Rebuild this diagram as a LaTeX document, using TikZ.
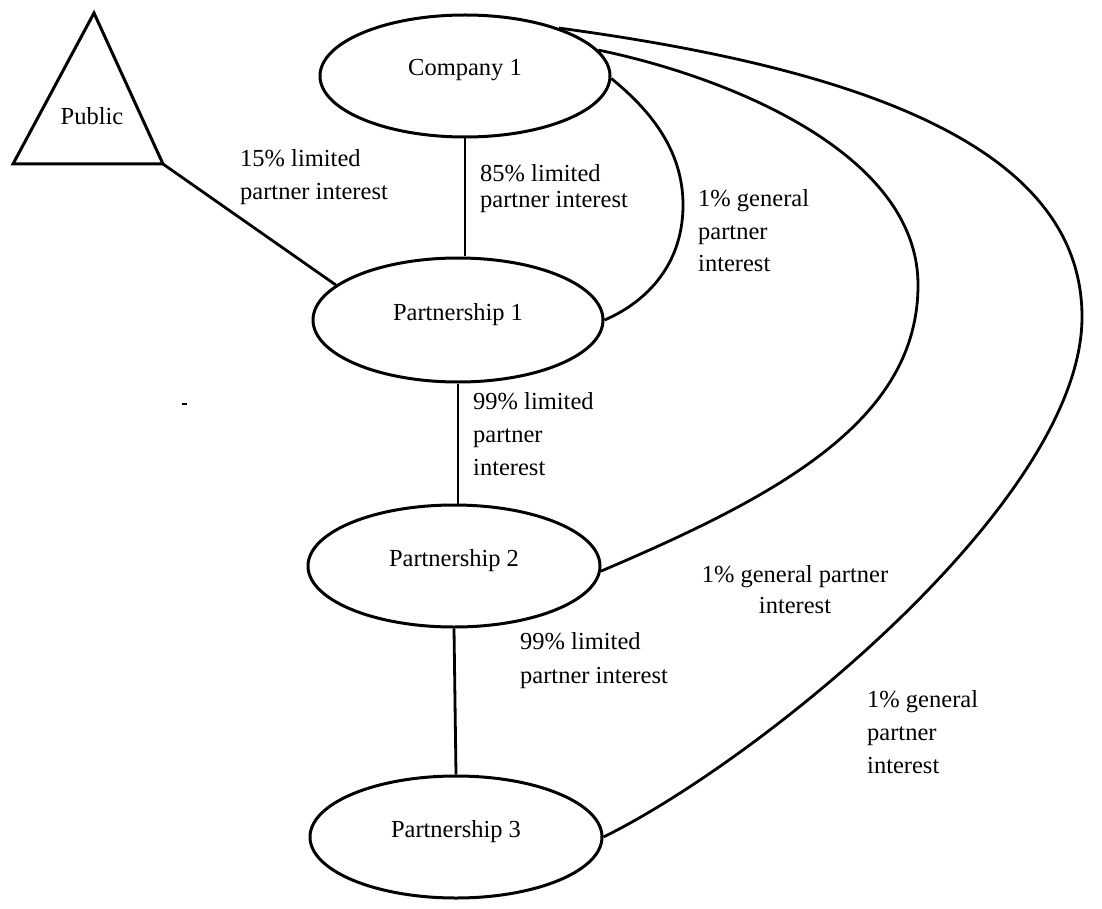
\documentclass[tikz,border=0pt]{standalone}
\usepackage{fontspec}
\setmainfont{Liberation Serif}
\usetikzlibrary{shapes.geometric,calc}
\begin{document}
\begin{tikzpicture}[x=1pt,y=-1pt,
  font=\fontsize{24.5}{32.5}\selectfont,
  ent/.style={ellipse, draw, line width=3pt, minimum width=290pt, minimum height=122pt,
              inner sep=0pt, text height=8pt, text depth=8pt},
  link/.style={line width=2.8pt},
  lbl/.style={anchor=base west, align=left, inner sep=0pt}]
\useasboundingbox (0,0) rectangle (1102,909);
% entities
\node[ent] (c1) at (465,76) {Company 1};
\node[ent, minimum height=124pt] (p1) at (458,320) {Partnership 1};
\node[ent, minimum width=292pt] (p2) at (454,566) {Partnership 2};
\node[ent, minimum width=292pt] (p3) at (456,837) {Partnership 3};
\coordinate (pubT) at (94,13);
\coordinate (pubL) at (13,164);
\coordinate (pubR) at (163,164);
\draw[line width=3pt] (pubT) -- (pubL) -- (pubR) -- cycle;
\node[anchor=base, inner sep=0pt] (pub) at (92,125) {Public};
% connectors
\draw[link] (pubR) -- (p1.164.7);
\draw[link] (c1.south) -- (c1.south |- p1.north);
\draw[link] (p1.south) -- (p1.south |- p2.north);
\draw[link] (p2.south) -- (p3.north);
\draw[link] (c1.-1.6) .. controls (650,110) and (683,150) .. (683,205)
                      .. controls (683,270) and (640,305) .. (p1.east);
\draw[link] (c1.11.5) .. controls (720,75) and (918,150) .. (918,285)
                      .. controls (918,420) and (780,495) .. (p2.-2);
\draw[link] (c1.27.6) .. controls (870,70) and (1082,150) .. (1082,317)
                      .. controls (1082,500) and (760,760) .. (p3.east);
% labels (base anchor = baseline of the last line)
\node[lbl, font=\fontsize{24.5}{33}\selectfont] (l1) at (240,200) {15\% limited\\partner interest};
\node[lbl, font=\fontsize{24.5}{26}\selectfont] (l2) at (480,208) {85\% limited\\partner interest};
\node[lbl] (l3) at (698,272) {1\% general\\partner\\interest};
\node[lbl, font=\fontsize{24.5}{33}\selectfont] (l4) at (473,475) {99\% limited\\partner\\interest};
\node[anchor=base, align=center, inner sep=0pt, font=\fontsize{24.5}{31}\selectfont] (l5) at (795,613) {1\% general partner\\interest};
\node[lbl, font=\fontsize{24.5}{34}\selectfont] (l6) at (520,683) {99\% limited\\partner interest};
\node[lbl, font=\fontsize{24.5}{33}\selectfont] (l7) at (867,773) {1\% general\\partner\\interest};
% stray mark
\draw[line width=2pt] (182,404) -- (187,404);
\end{tikzpicture}
\end{document}
